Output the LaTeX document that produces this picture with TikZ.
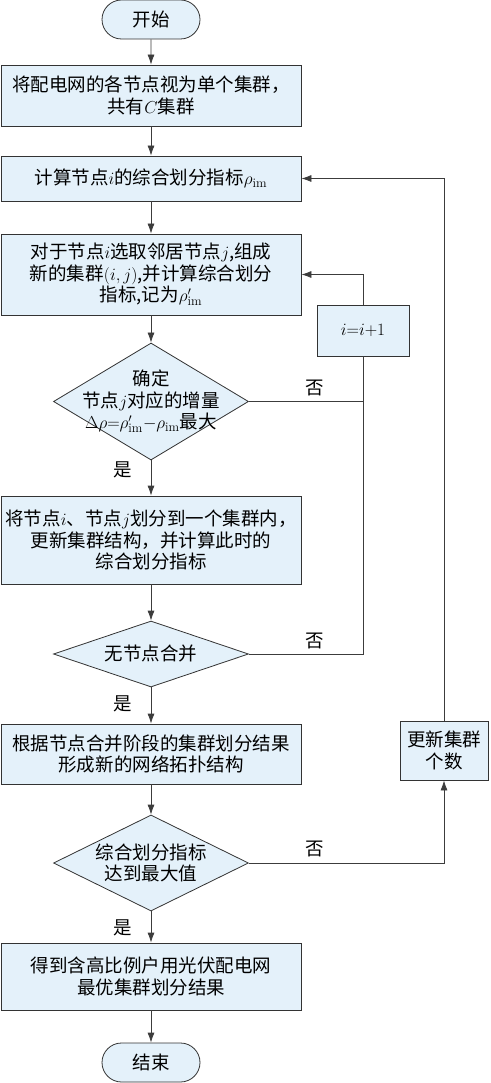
\documentclass[tikz,border=0pt]{standalone}
\usepackage{fontspec}
\newfontfamily\cjk{Noto Sans CJK SC}
\usetikzlibrary{shapes.geometric,shapes.misc,arrows.meta,positioning}
\definecolor{boxfill}{HTML}{E4F1FA}
\definecolor{boxline}{HTML}{333333}
\definecolor{flowline}{HTML}{3C3C3C}
\tikzset{term node/.style={rounded rectangle,fill=boxfill,draw=boxline,minimum width=98pt,minimum height=39pt,inner sep=0pt},
         proc node/.style={rectangle,fill=boxfill,draw=boxline,minimum width=300pt,align=center,inner sep=0pt},
         dec node/.style={diamond,fill=boxfill,draw=boxline,minimum width=195pt,inner sep=0pt},
         side node/.style={rectangle,fill=boxfill,draw=boxline,align=center,inner sep=0pt},
         edge label/.style={rectangle,draw=none,fill=none,inner sep=1pt},
         flow/.style={draw=flowline,line width=0.8pt,->},
}
\begin{document}
\begin{tikzpicture}[x=1pt,y=-1pt,
>={Latex[length=10pt,width=7pt]},
font=\cjk\fontsize{18.5pt}{21.5pt}\selectfont,
line width=0.8pt]
\useasboundingbox (0,0) rectangle (490,1083);
% \draw[help lines,step=50] (0,0) grid (490,1083);
\node[term node] (start) at (151,19.5) {开始};
\node[proc node,minimum height=61pt] (b1) at (151,95.5) {将配电网的各节点视为单个集群，\\共有$C$集群};
\node[proc node,minimum height=45pt] (b2) at (151,178.5) {计算节点$i$的综合划分指标$\rho_{\mathrm{im}}$};
\node[proc node,minimum height=81pt] (b3) at (151,274.5) {对于节点$i$选取邻居节点$j$,组成\\新的集群$(i,j)$,并计算综合划分\\指标,记为$\rho'_{\mathrm{im}}$};
\node[dec node,minimum height=117pt,
      label={[edge label,align=center]center:{确定\\节点$j$对应的增量\\$\Delta\rho{=}\rho'_{\mathrm{im}}{-}\rho_{\mathrm{im}}$最大}}] (d1) at (151,401.5) {};
\node[proc node,minimum height=88pt] (b4) at (151,540) {将节点$i$、节点$j$划分到一个集群内，\\更新集群结构，并计算此时的\\综合划分指标};
\node[dec node,minimum height=66pt,
      label={[edge label]center:无节点合并}] (d2) at (151,654) {};
\node[proc node,minimum height=60pt] (b5) at (151,754) {根据节点合并阶段的集群划分结果\\形成新的网络拓扑结构};
\node[dec node,minimum height=96pt,
      label={[edge label,align=center]center:{综合划分指标\\达到最大值}}] (d3) at (151,863) {};
\node[proc node,minimum height=67pt] (b6) at (151,976.5) {得到含高比例户用光伏配电网\\最优集群划分结果};
\node[term node] (stop) at (151,1062.5) {结束};

% loop boxes
\node[side node,minimum width=92pt,minimum height=51pt] (inc) at (363,330.5) {$i{=}i{+}1$};
\node[side node,minimum width=88pt,minimum height=59pt] (upd) at (444,750.5) {更新集群\\个数};

\foreach \a/\b in {start/b1,b1/b2,b2/b3,b3/d1,d1/b4,b4/d2,d2/b5,b5/d3,d3/b6,b6/stop}
    \draw[flow] (\a) -- (\b);

\draw[flow,-] (d1.east) -- (d1.east -| inc.south);
\draw[flow,-] (d2.east) -| (inc.south);
\draw[flow] (inc.north) |- (b3.east);
\draw[flow] (d3.east) -| (upd.south);
\draw[flow] (upd.north) |- (b2.east);

\node[edge label] at (315,388) {否};
\node[edge label] at (315,641) {否};
\node[edge label] at (315,849) {否};
\node[edge label] at ([shift={(-28,9)}]d1.south) {是};
\node[edge label] at ([shift={(-28,16)}]d2.south) {是};
\node[edge label] at ([shift={(-28,16)}]d3.south) {是};
\end{tikzpicture}
\end{document}
